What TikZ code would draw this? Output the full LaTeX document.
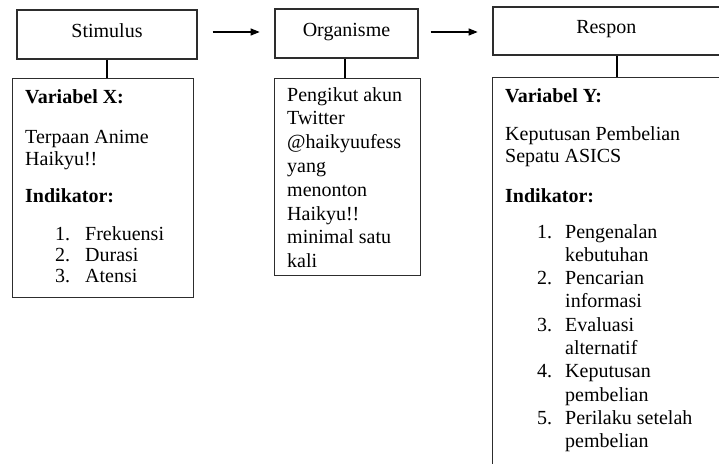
\documentclass[tikz,border=0pt]{standalone}
\usepackage{fontspec}
\setmainfont{Liberation Serif}
\usetikzlibrary{arrows.meta}
\definecolor{boxgray}{RGB}{45,45,45}
\begin{document}
\begin{tikzpicture}[x=1pt,y=-1pt,
  box/.style={draw=boxgray, line width=1.3pt, inner sep=0pt},
  titlebox/.style={box, font=\fontsize{20}{23}\selectfont, text height=12pt, text depth=7pt},
  txt/.style={anchor=base west, inner sep=0pt, font=\fontsize{20}{23}\selectfont},
  boldtxt/.style={txt, font=\fontsize{20}{23}\selectfont\bfseries},
  conn/.style={draw=black, line width=1.1pt},
  flow/.style={conn, -{Triangle[length=9pt,width=7pt]}}]
\useasboundingbox (0,0) rectangle (719,463);
\clip (0,0) rectangle (719,463);

% title boxes
\node[titlebox, minimum width=180pt, minimum height=49pt] (stim) at (107,34.5) {Stimulus};
\node[titlebox, minimum width=143pt, minimum height=49pt] (org) at (346.5,33.5) {Organisme};
\node[titlebox, minimum width=226.5pt, minimum height=48pt] (resp) at (606.25,31) {Respon};

% content boxes
\node[box, anchor=north west, minimum width=181pt, minimum height=219pt] (varx) at (12,78) {};
\node[box, anchor=north west, minimum width=146pt, minimum height=197pt] (orgbox) at (274,78) {};
\node[box, anchor=north west, minimum width=240pt, minimum height=400pt] (vary) at (492,77) {};

% arrows
\draw[flow] ([shift={(15,-2.5)}]stim.east) -- ++(47,0);
\draw[flow] ([shift={(12,-1.5)}]org.east) -- ++(47,0);

% vertical connectors
\draw[conn] (stim.south) -- (stim.south |- varx.north);
\draw[conn] ([xshift=-1.5pt]org.south) -- ([xshift=-1.5pt]org.south |- orgbox.north);
\draw[conn] ([xshift=10.75pt]resp.south) -- ([xshift=10.75pt]resp.south |- vary.north);

% left box text
\node[boldtxt] (vxh) at (25,103) {Variabel X:};
\node[txt] (vx1) at (25,143) {Terpaan Anime};
\node[txt] (vx2) at (25,165) {Haikyu!!};
\node[boldtxt] (vxi) at (25,202) {Indikator:};
\node[txt] (vxl1) at (55,240) {\makebox[30pt][l]{1.}Frekuensi};
\node[txt] (vxl2) at (55,261) {\makebox[30pt][l]{2.}Durasi};
\node[txt] (vxl3) at (55,282) {\makebox[30pt][l]{3.}Atensi};

% middle box text
\foreach \t [count=\i from 0] in {Pengikut akun, Twitter, @haikyuufess, yang, menonton, Haikyu!!, minimal satu, kali}
  \node[txt] (o\i) at (287,101+23.8*\i) {\t};

% right box text
\node[boldtxt] (vyh) at (505,102) {Variabel Y:};
\node[txt] (vy1) at (505,140) {Keputusan Pembelian};
\node[txt] (vy2) at (505,162) {Sepatu ASICS};
\node[boldtxt] (vyi) at (505,202) {Indikator:};
\node[txt] (r1) at (537,238) {\makebox[28pt][l]{1.}Pengenalan};
\node[txt] (r1b) at (565,261.3) {kebutuhan};
\node[txt] (r2) at (537,284.6) {\makebox[28pt][l]{2.}Pencarian};
\node[txt] (r2b) at (565,307.9) {informasi};
\node[txt] (r3) at (537,331.2) {\makebox[28pt][l]{3.}Evaluasi};
\node[txt] (r3b) at (565,354.5) {alternatif};
\node[txt] (r4) at (537,377.8) {\makebox[28pt][l]{4.}Keputusan};
\node[txt] (r4b) at (565,401.1) {pembelian};
\node[txt] (r5) at (537,424.4) {\makebox[28pt][l]{5.}Perilaku setelah};
\node[txt] (r5b) at (565,447.7) {pembelian};
\end{tikzpicture}
\end{document}
